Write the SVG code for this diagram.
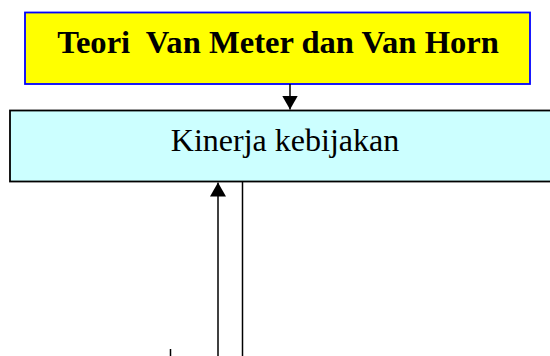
<svg xmlns="http://www.w3.org/2000/svg" width="550" height="356" viewBox="0 0 550 356">
  <style>
    .lbl { font-family: "Liberation Serif", "Times New Roman", serif; font-size: 32px; fill: #000; text-anchor: middle; white-space: pre; }
    .bold { font-weight: bold; font-size: 32.6px; }
    .wire { stroke: #000; stroke-width: 1.5; fill: none; }
  </style>
  <defs>
    <marker id="head" viewBox="0 0 14 16" refX="14" refY="8" markerWidth="14" markerHeight="16" markerUnits="userSpaceOnUse" orient="auto">
      <path d="M0,0 L14,8 L0,16 Z" fill="#000"/>
    </marker>
  </defs>

  <rect width="550" height="356" fill="#fff"/>

  <g id="teori">
    <rect x="25" y="12.5" width="505" height="71.5" fill="#ffff00" stroke="#0000ff" stroke-width="1.8"/>
    <text class="lbl bold" x="278" y="53" xml:space="preserve">Teori  Van Meter dan Van Horn</text>
  </g>

  <g id="kinerja">
    <rect x="10" y="110.5" width="560" height="71" fill="#ccffff" stroke="#000" stroke-width="1.8"/>
    <text class="lbl" x="285" y="151">Kinerja kebijakan</text>
  </g>

  <g id="connectors">
    <line class="wire" x1="290" y1="84" x2="290" y2="109.5" marker-end="url(#head)"/>
    <line class="wire" x1="218" y1="356" x2="218" y2="182.5" marker-end="url(#head)"/>
    <line class="wire" x1="242.5" y1="182" x2="242.5" y2="356"/>
    <line class="wire" x1="170.5" y1="349" x2="170.5" y2="356"/>
  </g>
</svg>
